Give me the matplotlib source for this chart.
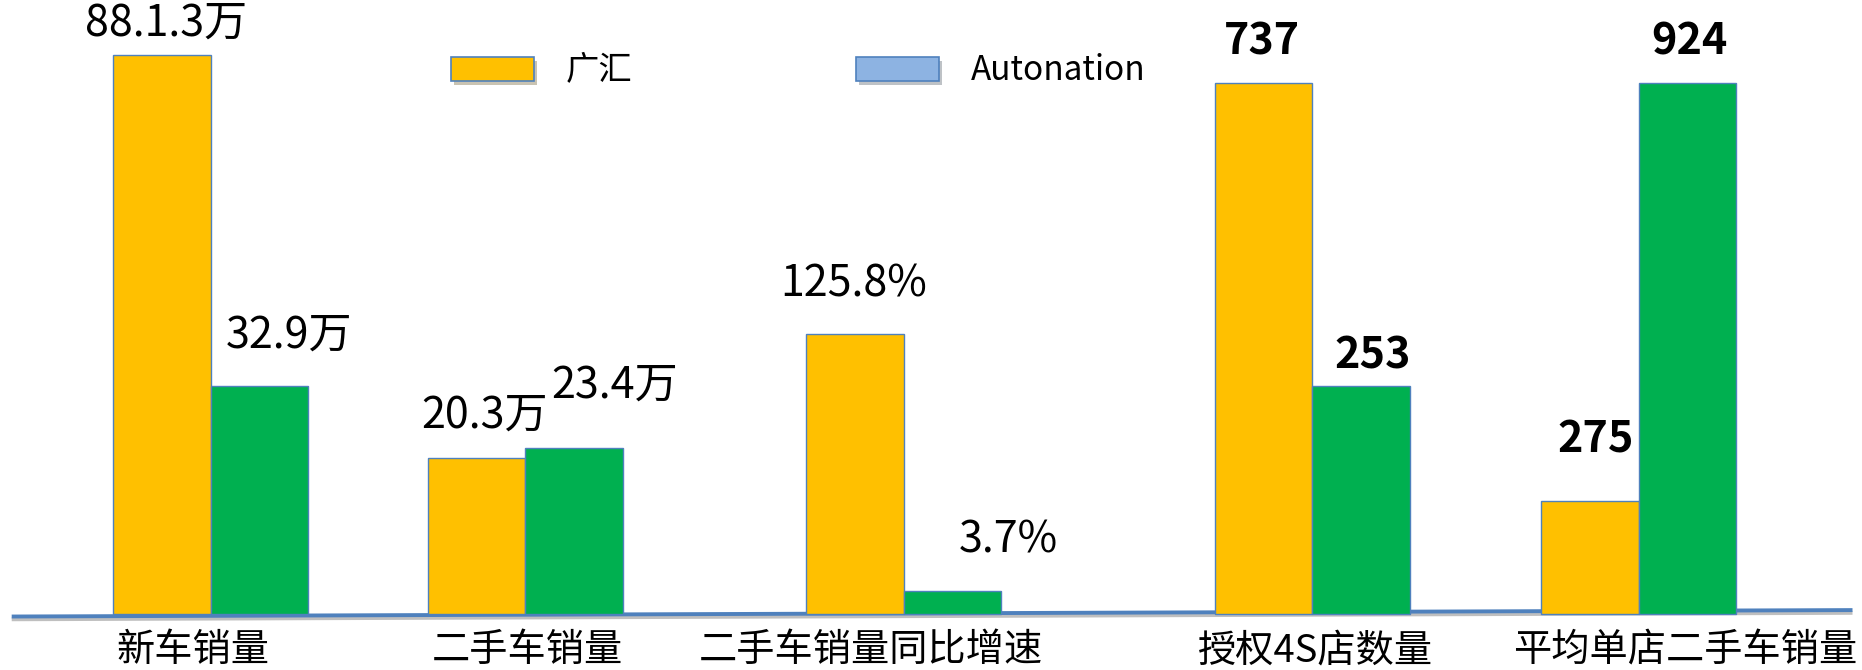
import numpy as np
import matplotlib.pyplot as plt
import matplotlib.patheffects as pe
from matplotlib.patches import Patch

plt.rcParams['font.family'] = ['Noto Sans CJK SC', 'DejaVu Sans']

# data (each group drawn on its own scale)
categories = ["新车销量", "二手车销量", "二手车销量同比增速", "授权4S店数量", "平均单店二手车销量"]
series_names = ["广汇", "Autonation"]
guanghui_height = [100.0, 27.9, 50.1, 95.0, 20.2]
autonation_height = [40.8, 29.7, 4.1, 40.8, 95.0]
guanghui_labels = ["88.1.3万", "20.3万", "125.8%", "737", "275"]
autonation_labels = ["32.9万", "23.4万", "3.7%", "253", "924"]

# layout (bar width = 1 unit, 1 y unit = 5.59 px)
group_x = np.array([2.164, 5.385, 9.27, 13.46, 16.81])
cat_label_x = [1.98, 5.405, 8.93, 13.49, 17.28]
gh_offsets = [(4, 31), (8, 42), (-1, 49), (-2, 41), (5, 62)]
an_offsets = [(29, 50), (41, 62), (56, 51), (12, 30), (2, 41)]
bold_groups = [3, 4]

ORANGE = "#FFC000"
GREEN = "#00B050"
LEGEND_BLUE = "#8DB3E2"
EDGE = "#4F81BD"

fig = plt.figure(figsize=(18.62, 6.70), dpi=100)
ax = fig.add_axes([0, 0, 1, 1])
ax.set_xlim(0, 1862 / 97.5)
ax.set_ylim(-56 / 5.59, 614 / 5.59)
ax.axis('off')

# baseline, slightly tilted like the original
ax.plot([0.12, 19.0], [-0.45, 0.7], color=EDGE, lw=2.8, zorder=1,
        solid_capstyle='butt',
        path_effects=[pe.SimpleLineShadow(offset=(0, -2), alpha=0.25), pe.Normal()])

b1 = ax.bar(group_x - 0.5, guanghui_height, width=1.0, color=ORANGE,
            edgecolor=EDGE, linewidth=1, zorder=2)
b2 = ax.bar(group_x + 0.5, autonation_height, width=1.0, color=GREEN,
            edgecolor=EDGE, linewidth=1, zorder=2)

for bars, labels, offs in [(b1, guanghui_labels, gh_offsets),
                           (b2, autonation_labels, an_offsets)]:
    for i, (rect, lab, (dx, dy)) in enumerate(zip(bars, labels, offs)):
        cx = rect.get_x() + rect.get_width() / 2
        ax.annotate(lab, (cx, rect.get_height()), xytext=(dx, dy),
                    textcoords='offset pixels', ha='center', va='center',
                    fontsize=31, weight='bold' if i in bold_groups else 'normal',
                    color='black')

for x, name in zip(cat_label_x, categories):
    ax.text(x, -37 / 5.59, name, ha='center', va='center', fontsize=27.5,
            weight='medium', color='black')

shadow = [pe.SimplePatchShadow(offset=(2, -3), alpha=0.3), pe.Normal()]
handles = [Patch(facecolor=ORANGE, edgecolor=EDGE, linewidth=1.2, path_effects=shadow),
           Patch(facecolor=LEGEND_BLUE, edgecolor=EDGE, linewidth=1.2, path_effects=shadow)]
fig.legend(handles, series_names, loc='upper left', bbox_to_anchor=(0.226, 0.965),
           ncol=2, frameon=False, fontsize=24, handlelength=2.5, handleheight=0.72,
           handletextpad=0.95, columnspacing=6.7)

fig.savefig("out.png", dpi=100)
